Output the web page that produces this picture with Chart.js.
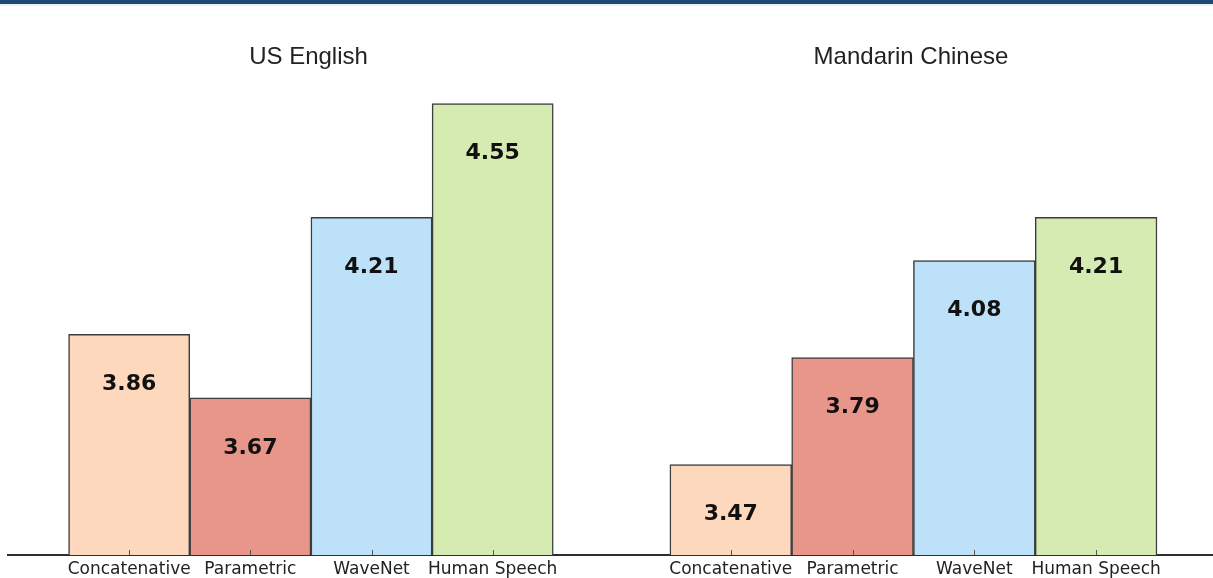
<!DOCTYPE html>
<html>
<head>
<meta charset="utf-8">
<script src="https://cdn.jsdelivr.net/npm/chart.js@4.4.1/dist/chart.umd.min.js"></script>
<style>
  body { margin: 0; background: #fff; }
  #band { position: absolute; left: 0; top: 0; width: 1213px; height: 4px; background: #1f4a78; border-bottom: 2px solid #e9f1f8; }
  #left { position: absolute; left: 0; top: 0; }
  #right { position: absolute; left: 609px; top: 0; }
</style>
</head>
<body>
<div id="band"></div>
<canvas id="left" width="609" height="578"></canvas>
<canvas id="right" width="604" height="578"></canvas>
<script>
var categories = ["Concatenative", "Parametric", "WaveNet", "Human Speech"];
var englishScores = [3.86, 3.67, 4.21, 4.55];
var mandarinScores = [3.47, 3.79, 4.08, 4.21];
var barColors = ["#fdd8bd", "#e8968a", "#bde1f8", "#d5ebb1"];
var yMin = 3.2, yMax = 4.6;

// value text inside each bar, a bit under its top
var valueLabels = {
    id: 'valueLabels',
    afterDatasetsDraw: function(chart) {
        var ctx = chart.ctx;
        var meta = chart.getDatasetMeta(0);
        var data = chart.data.datasets[0].data;
        ctx.save();
        ctx.font = 'bold 22px "DejaVu Sans"';
        ctx.fillStyle = '#111';
        ctx.textAlign = 'center';
        ctx.textBaseline = 'middle';
        meta.data.forEach(function(bar, i) {
            ctx.fillText(data[i].y.toFixed(2), bar.x, bar.y + 50);
        });
        ctx.restore();
    }
};

// small ticks pointing up into the plot, like matplotlib
var innerTicks = {
    id: 'innerTicks',
    afterDraw: function(chart) {
        var ctx = chart.ctx;
        var xs = chart.scales.x;
        var bottom = chart.chartArea.bottom;
        ctx.save();
        ctx.strokeStyle = '#555';
        ctx.lineWidth = 1;
        xs.ticks.forEach(function(t) {
            var x = Math.round(xs.getPixelForValue(t.value)) + 0.5;
            ctx.beginPath();
            ctx.moveTo(x, bottom);
            ctx.lineTo(x, bottom - 5);
            ctx.stroke();
        });
        ctx.restore();
    }
};

function makeChart(id, title, scores, padLeft) {
    var points = scores.map(function(v, i) { return { x: i, y: v }; });
    return new Chart(document.getElementById(id).getContext('2d'), {
        type: 'bar',
        data: {
            datasets: [{
                data: points,
                backgroundColor: barColors,
                borderColor: '#3d3d3d',
                borderWidth: 1.5,
                borderSkipped: 'start',
                base: yMin,
                barPercentage: 1,
                categoryPercentage: 1
            }]
        },
        options: {
            responsive: false,
            animation: false,
            layout: { padding: { left: padLeft, right: 0, top: 0, bottom: 0 } },
            plugins: {
                legend: { display: false },
                tooltip: { enabled: false },
                title: {
                    display: true,
                    text: title,
                    fullSize: false,
                    color: '#222',
                    font: { family: '"Liberation Sans", Arial, sans-serif', size: 24, weight: 'normal' },
                    padding: { top: 43, bottom: 15 }
                }
            },
            scales: {
                x: {
                    type: 'linear',
                    min: -1,
                    max: 3.96,
                    offset: false,
                    grid: { display: false, drawTicks: false, offset: false },
                    border: { display: true, color: '#2e2e2e', width: 2 },
                    afterBuildTicks: function(scale) {
                        scale.ticks = categories.map(function(c, i) { return { value: i }; });
                    },
                    afterFit: function(scale) { scale.height = 23; },
                    ticks: {
                        autoSkip: false,
                        maxRotation: 0,
                        padding: 4,
                        color: '#222',
                        font: { family: '"DejaVu Sans"', size: 17 },
                        callback: function(v) { return categories[v]; }
                    }
                },
                y: {
                    display: false,
                    min: yMin,
                    max: yMax
                }
            }
        },
        plugins: [valueLabels, innerTicks]
    });
}

makeChart('left', 'US English', englishScores, 8);
makeChart('right', 'Mandarin Chinese', mandarinScores, 0);
</script>
</body>
</html>
